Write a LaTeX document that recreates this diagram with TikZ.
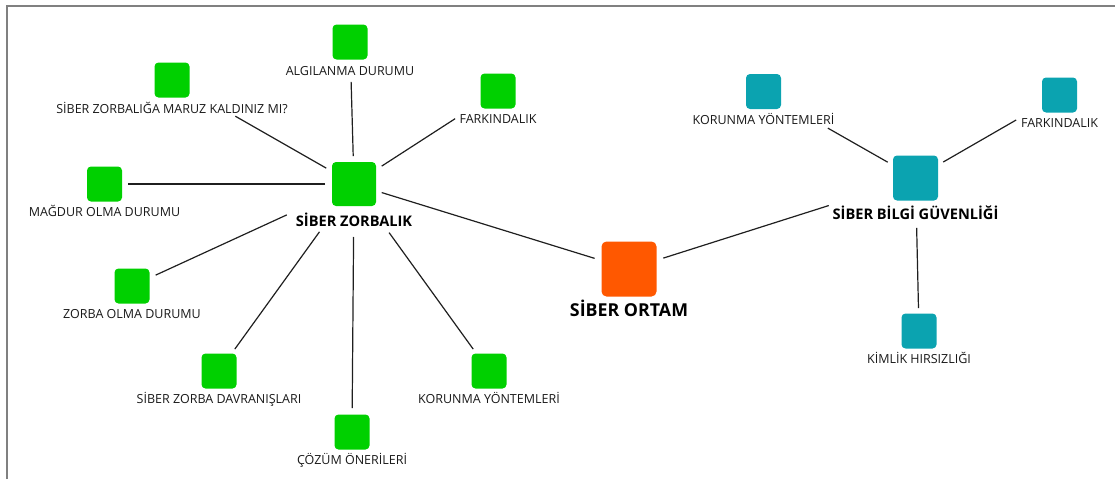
\documentclass[tikz,border=0pt]{standalone}
\usepackage{fontspec}
\setmainfont{Open Sans}
\begin{document}
\begin{tikzpicture}[x=1pt,y=-1pt,
  every node/.style={inner sep=0pt,outer sep=0pt},
  gbox/.style={fill=zgreen,rounded corners=4pt,minimum size=#1},
  cbox/.style={fill=bteal,rounded corners=4pt,minimum size=#1},
  obox/.style={fill=oorange,rounded corners=5pt,minimum size=#1},
  lbl/.style={font=\fontsize{12.5}{14}\selectfont,text=black!90,anchor=base},
  hub/.style={font=\fontsize{14.6}{17}\selectfont\bfseries,text=black,anchor=base},
  root/.style={font=\fontsize{17.8}{20}\selectfont\bfseries,text=black,anchor=base},
  link/.style={draw=black!88,line width=1.2pt}
]
\definecolor{zgreen}{RGB}{0,208,0}
\definecolor{bteal}{RGB}{11,163,176}
\definecolor{oorange}{RGB}{255,88,0}

\useasboundingbox (0,0) rectangle (1115,479);
% frame
\draw[draw=black!50,line width=2pt] (7,479) -- (7,6) -- (1115,6);

% central node
\node[obox=55pt] (ortam) at (629,269) {};
\node[root] (ortamT) at ([yshift=-20pt]ortam.south) {SİBER ORTAM};

% cyber bullying cluster
\node[gbox=44pt] (zor) at (354,184) {};
\node[hub] (zorT) at ([yshift=-20pt]zor.south) {SİBER ZORBALIK};

\node[gbox=35pt] (alg) at (350,42) {};
\node[lbl] (algT) at ([yshift=-16pt]alg.south) {ALGILANMA DURUMU};
\node[gbox=35pt] (maruz) at (172,80) {};
\node[lbl] (maruzT) at ([yshift=-16pt]maruz.south) {SİBER ZORBALIĞA MARUZ KALDINIZ MI?};
\node[gbox=35pt] (magdur) at (104.5,184) {};
\node[lbl] (magdurT) at ([yshift=-15pt]magdur.south) {MAĞDUR OLMA DURUMU};
\node[gbox=35pt] (farkG) at (498,91) {};
\node[lbl] (farkGT) at ([yshift=-15pt]farkG.south) {FARKINDALIK};
\node[gbox=35pt] (zorba) at (132,286) {};
\node[lbl] (zorbaT) at ([yshift=-15pt]zorba.south) {ZORBA OLMA DURUMU};
\node[gbox=35pt] (davr) at (219,371) {};
\node[lbl] (davrT) at ([yshift=-15pt]davr.south) {SİBER ZORBA DAVRANIŞLARI};
\node[gbox=35pt] (cozum) at (352,432) {};
\node[lbl] (cozumT) at ([yshift=-15pt]cozum.south) {ÇÖZÜM ÖNERİLERİ};
\node[gbox=35pt] (korG) at (489,371) {};
\node[lbl] (korGT) at ([yshift=-15pt]korG.south) {KORUNMA YÖNTEMLERİ};

% information security cluster
\node[cbox=45pt] (sbg) at (915.5,178) {};
\node[hub] (sbgT) at ([yshift=-19pt]sbg.south) {SİBER BİLGİ GÜVENLİĞİ};
\node[cbox=35pt] (korC) at (763.5,91.5) {};
\node[lbl] (korCT) at ([yshift=-15pt]korC.south) {KORUNMA YÖNTEMLERİ};
\node[cbox=35pt] (farkC) at (1059.5,95) {};
\node[lbl] (farkCT) at ([yshift=-15pt]farkC.south) {FARKINDALIK};
\node[cbox=35pt] (kimlik) at (919,331) {};
\node[lbl] (kimlikT) at ([yshift=-15pt]kimlik.south) {KİMLİK HIRSIZLIĞI};

% connectors
\draw[link,shorten <=29pt,shorten >=36pt] (zor.center) -- (ortam.center);
\draw[link,shorten <=36pt,shorten >=91pt] (ortam.center) -- (sbg.center);

\draw[link,shorten <=28pt,shorten >=40pt] (zor.center) -- (alg.center);
\draw[link,shorten <=32pt,shorten >=73pt] (zor.center) -- (maruz.center);
\draw[link,shorten <=29pt,shorten >=23.5pt] (zor.center) -- (magdur.center);
\draw[link,shorten <=33pt,shorten >=51pt] (zor.center) -- (farkG.center);
\draw[link,shorten <=74pt,shorten >=26pt] (zor.center) -- (zorba.center);
\draw[link,shorten <=59pt,shorten >=27pt] (zor.center) -- (davr.center);
\draw[link,shorten <=53pt,shorten >=24pt] (zor.center) -- (cozum.center);
\draw[link,shorten <=60pt,shorten >=27pt] (zor.center) -- (korG.center);

\draw[link,shorten <=32pt,shorten >=74pt] (sbg.center) -- (korC.center);
\draw[link,shorten <=32pt,shorten >=50pt] (sbg.center) -- (farkC.center);
\draw[link,shorten <=50pt,shorten >=23pt] (sbg.center) -- (kimlik.center);
\end{tikzpicture}
\end{document}
